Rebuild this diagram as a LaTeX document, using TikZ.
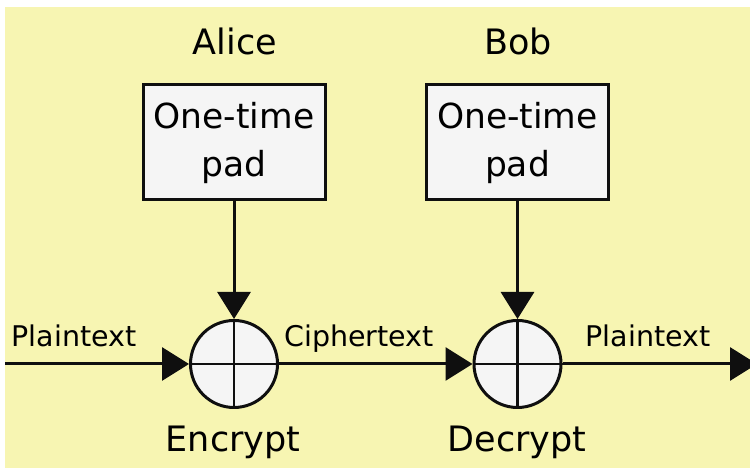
\documentclass[tikz,border=0pt]{standalone}
\usepackage{fontspec}
\setmainfont{DejaVu Sans}
\usetikzlibrary{arrows.meta}
\definecolor{bgyellow}{RGB}{247,245,178}
\definecolor{boxfill}{RGB}{245,245,245}
\definecolor{ink}{RGB}{15,15,15}
\begin{document}
\begin{tikzpicture}[x=1pt,y=1pt,
  padbox/.style={draw=ink,line width=3pt,fill=boxfill,minimum width=182pt,minimum height=115pt,
    inner sep=0pt,align=center,font=\fontsize{34.5}{48}\selectfont},
  xorop/.style={circle,draw=ink,line width=3pt,fill=boxfill,minimum size=87pt,inner sep=0pt},
  bigtxt/.style={font=\fontsize{35}{40}\selectfont,anchor=base,inner sep=0pt},
  smalltxt/.style={font=\fontsize{28.5}{34}\selectfont,anchor=base,inner sep=0pt},
  flow/.style={draw=ink,line width=3pt,-{Triangle[length=27pt,width=33pt]}}]
\useasboundingbox (0,0) rectangle (750,468);
\fill[white] (0,0) rectangle (750,468);
\fill[bgyellow] (5,0) rectangle (750,461);
% titles
\node[bigtxt] (alice) at (235,413) {Alice};
\node[bigtxt] (bob) at (518,413) {Bob};
% pads
\node[padbox] (padA) at (234,325.5) {One-time\\pad};
\node[padbox] (padB) at (517.5,325.5) {One-time\\pad};
% xor operators
\node[xorop] (enc) at (234,104) {};
\node[xorop] (dec) at (517.5,104) {};
\draw[ink,line width=2.5pt] (enc.north) -- (enc.south) (enc.west) -- (enc.east);
\draw[ink,line width=2.5pt] (dec.north) -- (dec.south) (dec.west) -- (dec.east);
% labels under
\node[bigtxt] (enclbl) at (233,16) {Encrypt};
\node[bigtxt] (declbl) at (517,16) {Decrypt};
% flow
\coordinate (in) at (5,104);
\coordinate (out) at (757,104);
\draw[flow] (padA) -- (enc);
\draw[flow] (padB) -- (dec);
\draw[flow] (in) -- (enc);
\draw[flow] (enc) -- (dec);
\draw[flow] (dec) -- (out);
% flow labels
\node[smalltxt] (pt1) at (74,121) {Plaintext};
\node[smalltxt] (ct) at (359,121) {Ciphertext};
\node[smalltxt] (pt2) at (648,121) {Plaintext};
\end{tikzpicture}
\end{document}
